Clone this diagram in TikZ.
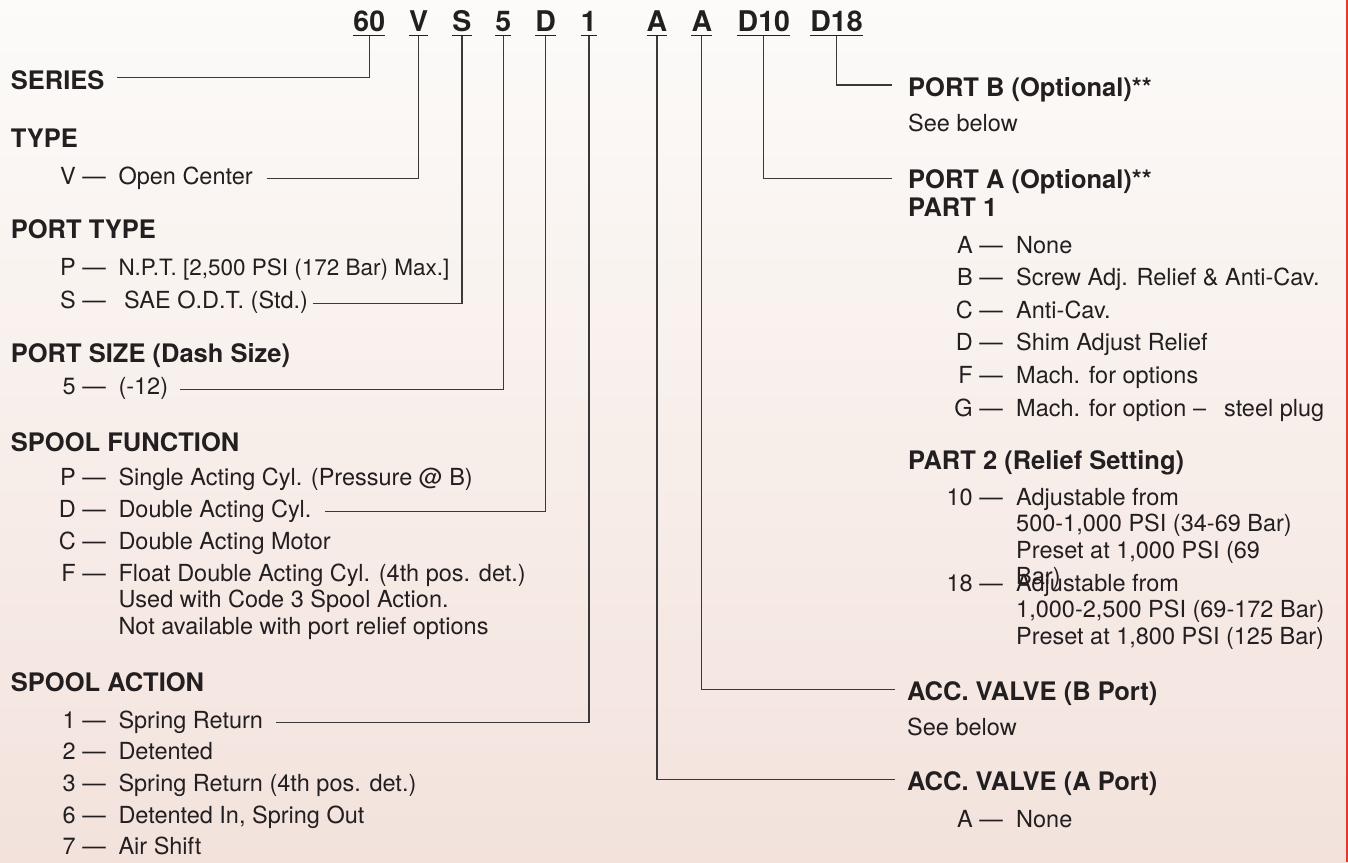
\documentclass[tikz,border=0pt]{standalone}
\usepackage{fontspec}
\setmainfont{TeX Gyre Heros}
\definecolor{txt}{HTML}{231F20}
\definecolor{ln}{HTML}{3A3838}
\definecolor{bgtop}{HTML}{FCFBF9}
\definecolor{bgmid}{HTML}{F8F0EC}
\definecolor{bgbot}{HTML}{F3E2DC}
\definecolor{redbar}{HTML}{E5392B}
\begin{document}
\begin{tikzpicture}[x=1pt,y=-1pt,
  hd/.style={anchor=base west, inner sep=0pt, text=txt, font=\fontsize{25.5}{28}\selectfont\bfseries},
  bd/.style={anchor=base west, inner sep=0pt, text=txt, font=\fontsize{23.5}{26}\selectfont},
  cd/.style={anchor=base east, inner sep=0pt, text=txt, font=\fontsize{23.5}{26}\selectfont},
  code/.style={anchor=base, inner sep=0pt, text=txt, font=\fontsize{28.5}{30}\selectfont\bfseries},
  conn/.style={draw=ln, line width=1.2pt},
  uline/.style={draw=txt, line width=1.6pt}]
\useasboundingbox (0,0) rectangle (1348,862);
\shade[top color=bgtop, middle color=bgmid, bottom color=bgbot] (0,0) rectangle (1348,862);
\fill[redbar] (1345.8,0) rectangle (1348,862);

% code row
\node[code] (c60) at (369.3,31) {60};
\node[code] (cV) at (418.6,31) {V};
\node[code] (cS) at (461.9,31) {S};
\node[code] (c5) at (503.2,31) {5};
\node[code] (cD) at (545.7,31) {D};
\node[code] (c1) at (588.9,31) {1};
\node[code] (cA1) at (657,31) {A};
\node[code] (cA2) at (701.8,31) {A};
\node[code] (cD10) at (763.8,31) {D10};
\node[code] (cD18) at (836.5,31) {D18};
\foreach \n in {c60,cV,cS,c5,cD,c1,cA1,cA2,cD10,cD18}
  \draw[uline] ([yshift=-4.5pt]\n.base west) -- ([yshift=-4.5pt]\n.base east);

% left column
\node[hd] (series) at (10.7,89.3) {SERIES};
\node[hd] (type) at (10.7,147.3) {TYPE};
\node[cd] (kV) at (106,184) {V —};
\node[bd] (dV) at (118.3,184) {Open Center};
\node[hd] (ptype) at (10.7,238.3) {PORT TYPE};
\node[cd] (kP) at (106,275) {P —};
\node[bd, font=\fontsize{22.5}{26}\selectfont] (dP) at (118.3,275) {N.P.T. [2,500 PSI (172 Bar) Max.]};
\node[cd] (kS) at (106,308) {S —};
\node[bd] (dS) at (124,308) {SAE O.D.T. (Std.)};
\node[hd] (psize) at (10.7,362.5) {PORT SIZE (Dash Size)};
\node[cd] (k5) at (106,394.6) {5 —};
\node[bd] (d5) at (118.3,394.6) {(-12)};
\node[hd] (sfun) at (10.7,451) {SPOOL FUNCTION};
\node[cd] (kFP) at (106,485.5) {P —};
\node[bd] (dFP) at (118.3,485.5) {Single Acting Cyl. (Pressure @ B)};
\node[cd] (kFD) at (106,517) {D —};
\node[bd] (dFD) at (118.3,517) {Double Acting Cyl.};
\node[cd] (kFC) at (106,549) {C —};
\node[bd] (dFC) at (118.3,549) {Double Acting Motor};
\node[cd] (kFF) at (106,581) {F —};
\node[bd] (dFF) at (118.3,581) {Float Double Acting Cyl. (4th pos. det.)};
\node[bd] (dFF2) at (118.3,607.5) {Used with Code 3 Spool Action.};
\node[bd] (dFF3) at (118.3,634) {Not available with port relief options};
\node[hd] (sact) at (10.7,691.5) {SPOOL ACTION};
\node[cd] (kA1) at (106,728) {1 —};
\node[bd] (dA1) at (118.3,728) {Spring Return};
\node[cd] (kA2) at (106,759.7) {2 —};
\node[bd] (dA2) at (118.3,759.7) {Detented};
\node[cd] (kA3) at (106,791.4) {3 —};
\node[bd] (dA3) at (118.3,791.4) {Spring Return (4th pos. det.)};
\node[cd] (kA6) at (106,823.1) {6 —};
\node[bd] (dA6) at (118.3,823.1) {Detented In, Spring Out};
\node[cd] (kA7) at (106,854.8) {7 —};
\node[bd] (dA7) at (118.3,854.8) {Air Shift};

% right column
\node[hd] (portb) at (908,96.5) {PORT B (Optional)**};
\node[bd] (seeb1) at (908,131.5) {See below};
\node[hd] (porta) at (908,188.3) {PORT A (Optional)**};
\node[hd] (part1) at (908,216.7) {PART 1};
\node[cd] (kRA) at (1003,253) {A —};
\node[bd] (dRA) at (1016,253) {None};
\node[cd] (kRB) at (1003,285.6) {B —};
\node[bd] (dRB) at (1016,285.6) {Screw Adj. Relief \& Anti-Cav.};
\node[cd] (kRC) at (1003,318.2) {C —};
\node[bd] (dRC) at (1016,318.2) {Anti-Cav.};
\node[cd] (kRD) at (1003,350.8) {D —};
\node[bd] (dRD) at (1016,350.8) {Shim Adjust Relief};
\node[cd] (kRF) at (1003,383.4) {F —};
\node[bd] (dRF) at (1016,383.4) {Mach. for options};
\node[cd] (kRG) at (1003,416) {G —};
\node[bd] (dRG) at (1016,416) {Mach. for option –\hspace{18pt}steel plug};
\node[hd] (part2) at (908,469.5) {PART 2 (Relief Setting)};
\node[cd] (k10) at (1003,505) {10 —};
\node[bd] (d10a) at (1016,505) {Adjustable from};
\node[bd] (d10b) at (1016,531.5) {500-1,000 PSI (34-69 Bar)};
\node[bd] (d10c) at (1016,558) {Preset at 1,000 PSI (69};
\node[bd] (d10d) at (1016,584.5) {Bar)};
\node[cd] (k18) at (1003,591) {18 —};
\node[bd] (d18a) at (1016,591) {Adjustable from};
\node[bd] (d18b) at (1016,617.5) {1,000-2,500 PSI (69-172 Bar)};
\node[bd] (d18c) at (1016,644) {Preset at 1,800 PSI (125 Bar)};
\node[hd] (accb) at (907,700) {ACC. VALVE (B Port)};
\node[bd] (seeb2) at (907,735) {See below};
\node[hd] (acca) at (907,790) {ACC. VALVE (A Port)};
\node[cd] (kAN) at (1003,827) {A —};
\node[bd] (dAN) at (1016,827) {None};

% connectors
\draw[conn] ([yshift=-4.5pt]c60.base) |- ([xshift=12.3pt,yshift=11.6pt]series.base east);
\draw[conn] ([yshift=-4.5pt]cV.base) |- ([xshift=14pt,yshift=5.7pt]dV.base east);
\draw[conn] ([yshift=-4.5pt]cS.base) |- ([xshift=5pt,yshift=4.7pt]dS.base east);
\draw[conn] ([yshift=-4.5pt]c5.base) |- ([xshift=11.5pt,yshift=5.3pt]d5.base east);
\draw[conn] ([yshift=-4.5pt]cD.base) |- ([xshift=13pt,yshift=5.3pt]dFD.base east);
\draw[conn] ([yshift=-4.5pt]c1.base) |- ([xshift=13pt,yshift=5.3pt]dA1.base east);
\draw[conn] ([yshift=-4.5pt]cA1.base) |- ([xshift=-12pt,yshift=10.7pt]acca.base west);
\draw[conn] ([yshift=-4.5pt]cA2.base) |- ([xshift=-12pt,yshift=10.7pt]accb.base west);
\draw[conn] ([yshift=-4.5pt]cD10.base) |- ([xshift=-16pt,yshift=10pt]porta.base west);
\draw[conn] ([yshift=-4.5pt]cD18.base) |- ([xshift=-16pt,yshift=11.5pt]portb.base west);
\end{tikzpicture}
\end{document}
